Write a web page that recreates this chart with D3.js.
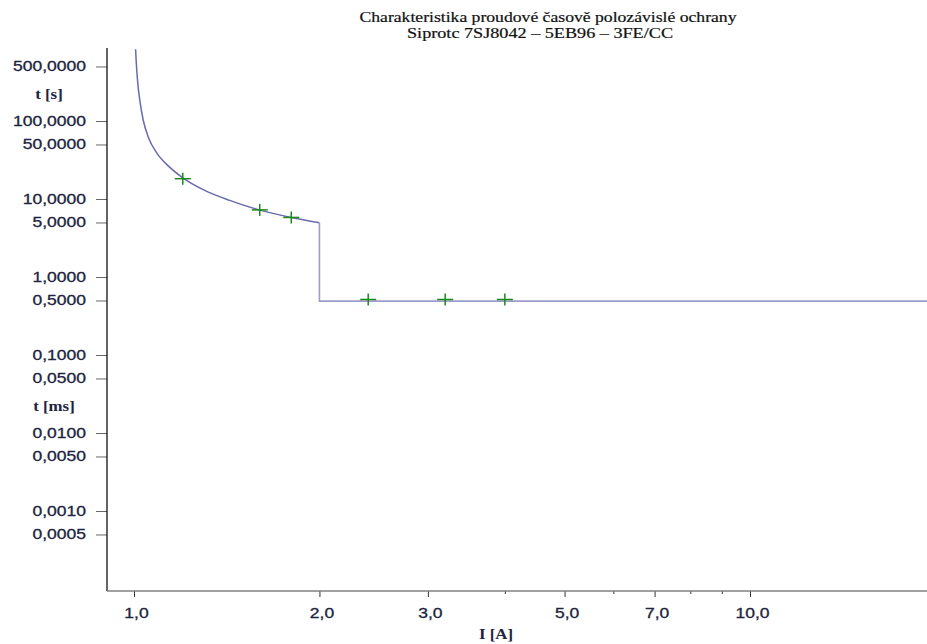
<!DOCTYPE html>
<html>
<head>
<meta charset="utf-8">
<script src="https://cdn.jsdelivr.net/npm/d3@7"></script>
<style>
  body { margin: 0; background: #fff; }
  svg { display: block; }
</style>
</head>
<body>
<svg></svg>
<script>
// inverse-time part of the characteristic
let curveI = [1.006, 1.008, 1.014, 1.023, 1.035, 1.055, 1.09, 1.14, 1.2, 1.3, 1.43, 1.6, 1.8, 2.0]
let curveT = [830, 600, 310, 175, 103, 62, 38.5, 26, 18.7, 13.0, 9.6, 7.2, 5.8, 4.97]
// definite-time step
let stepI = [2.0, 2.0, 19.4]
let stepT = [4.97, 0.49, 0.49]
// test points (+)
let markI = [1.2, 1.6, 1.8, 2.4, 3.2, 4.0]
let markT = [18.2, 7.25, 5.8, 0.515, 0.515, 0.515]

let yTicks = [500, 100, 50, 10, 5, 1, 0.5, 0.1, 0.05, 0.01, 0.005, 0.001, 0.0005]
let xMajor = [1, 2, 3, 5, 7, 10]
let xMinor = [4, 6, 8, 9]

let title1 = "Charakteristika proudové časově polozávislé ochrany"
let title2 = "Siprotc 7SJ8042 – 5EB96 – 3FE/CC"

let width = 927
let height = 644
let padLeft = 107, padRight = 927, padTop = 48, padBottom = 591

let svg = d3.select("svg").attr("width", width).attr("height", height)

let loc = d3.formatLocale({decimal: ",", thousands: " ", grouping: [3], currency: ["", ""]})
let fmtY = loc.format(".4f")
let fmtX = loc.format(".1f")

let x = d3.scaleLog().domain([1, 10]).range([134, 750])
let y = d3.scaleLog().domain([1, 10]).range([277, 199])

let labelFont = "'Liberation Sans', Arial, sans-serif"
let serif = "'Liberation Serif', 'Times New Roman', serif"
let labelColor = "#1d2440"

// stretch text horizontally like the source picture
let stretch = (sel, k) => {
  sel.each(function () {
    let w = this.getComputedTextLength()
    d3.select(this).attr("textLength", w * k).attr("lengthAdjust", "spacingAndGlyphs")
  })
}

// title
svg.append("text")
   .attr("x", 548).attr("y", 22)
   .attr("text-anchor", "middle")
   .style("font-family", serif).style("font-size", "14px").attr("fill", "#111")
   .attr("stroke", "#111").attr("stroke-width", 0.2)
   .text(title1)
   .attr("textLength", 377).attr("lengthAdjust", "spacingAndGlyphs")
svg.append("text")
   .attr("x", 540).attr("y", 38)
   .attr("text-anchor", "middle")
   .style("font-family", serif).style("font-size", "14px").attr("fill", "#111")
   .attr("stroke", "#111").attr("stroke-width", 0.2)
   .text(title2)
   .attr("textLength", 266).attr("lengthAdjust", "spacingAndGlyphs")

// y axis
let yAxis = d3.axisLeft(y).tickValues(yTicks).tickFormat(fmtY).tickSize(11).tickPadding(10)
let gy = svg.append("g").attr("transform", "translate(" + padLeft + ",0)").call(yAxis)
gy.select(".domain").remove()
gy.selectAll(".tick line").attr("stroke", "#666")
gy.selectAll(".tick text")
  .style("font-family", labelFont).style("font-size", "14px")
  .attr("fill", labelColor).attr("stroke", labelColor).attr("stroke-width", 0.3)
  .call(stretch, 1.25)

svg.append("line")
   .attr("x1", padLeft).attr("x2", padLeft).attr("y1", padTop).attr("y2", padBottom)
   .attr("stroke", "#111").attr("stroke-width", 1.3)

// x axis
let xAxis = d3.axisBottom(x).tickValues(xMajor).tickFormat(fmtX).tickSize(6).tickPadding(11)
let gx = svg.append("g").attr("transform", "translate(0," + padBottom + ")").call(xAxis)
gx.select(".domain").remove()
gx.selectAll(".tick line").attr("stroke", "#333")
gx.selectAll(".tick text")
  .style("font-family", labelFont).style("font-size", "14px")
  .attr("fill", labelColor).attr("stroke", labelColor).attr("stroke-width", 0.3)
  .attr("dx", 2)
  .call(stretch, 1.25)

let gx2 = svg.append("g").attr("transform", "translate(0," + padBottom + ")")
  .call(d3.axisBottom(x).tickValues(xMinor).tickFormat("").tickSize(3))
gx2.select(".domain").remove()
gx2.selectAll(".tick line").attr("stroke", "#333")

svg.append("line")
   .attr("x1", padLeft).attr("x2", padRight).attr("y1", padBottom).attr("y2", padBottom)
   .attr("stroke", "#808080").attr("stroke-width", 1.5)

// unit labels
let unit = (tx, ty, s) => svg.append("text")
   .attr("x", tx).attr("y", ty).attr("text-anchor", "middle")
   .style("font-family", serif).style("font-size", "14px").style("font-weight", "bold")
   .attr("fill", labelColor).text(s)
   .call(stretch, 1.2)
unit(49, 99, "t [s]")
unit(54, 411, "t [ms]")
unit(496, 639, "I [A]")

// characteristic
let pts = curveI.map((d, i) => [x(d), y(curveT[i])])
let stepPts = stepI.map((d, i) => [x(d), y(stepT[i])])

svg.append("path")
   .attr("d", d3.line().curve(d3.curveMonotoneX)(pts))
   .attr("fill", "none").attr("stroke", "#6a6aae").attr("stroke-width", 1.5)
svg.append("path")
   .attr("d", d3.line()(stepPts))
   .attr("fill", "none").attr("stroke", "#9c9cc8").attr("stroke-width", 1.6)

// markers
let marks = markI.map((d, i) => [x(d), y(markT[i])])
let gm = svg.append("g").attr("stroke", "#1a8a1a").attr("stroke-width", 1.5)
gm.selectAll(".h").data(marks).enter().append("line")
  .attr("x1", d => d[0] - 8).attr("x2", d => d[0] + 8)
  .attr("y1", d => d[1]).attr("y2", d => d[1])
gm.selectAll(".v").data(marks).enter().append("line")
  .attr("x1", d => d[0]).attr("x2", d => d[0])
  .attr("y1", d => d[1] - 6).attr("y2", d => d[1] + 6)
</script>
</body>
</html>
